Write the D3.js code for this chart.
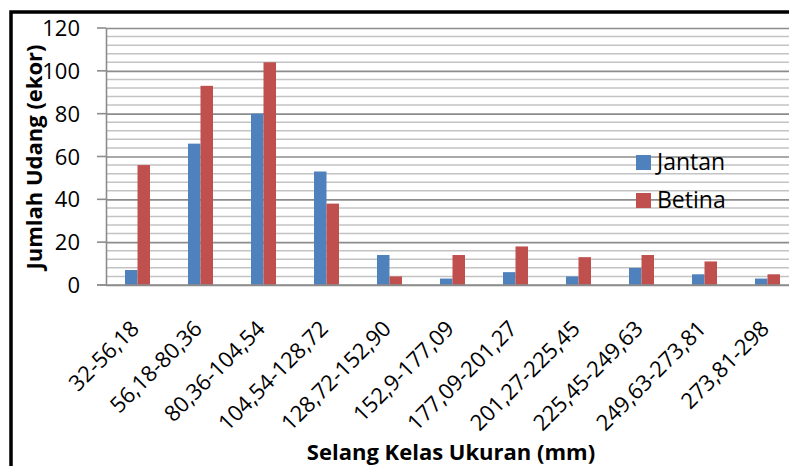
<!DOCTYPE html>
<html>
<head>
<meta charset="utf-8">
<script src="https://cdn.jsdelivr.net/npm/d3@7"></script>
<style>
  html, body { margin: 0; padding: 0; background: #fff; }
  svg { display: block; font-family: "Open Sans", sans-serif; }
</style>
</head>
<body>
<svg id="chart" width="789" height="466"></svg>
<script>
const categories = ['32-56,18', '56,18-80,36', '80,36-104,54', '104,54-128,72', '128,72-152,90',
  '152,9-177,09', '177,09-201,27', '201,27-225,45', '225,45-249,63', '249,63-273,81', '273,81-298'];
const seriesNames = ['Jantan', 'Betina'];
const jantan = [7, 66, 80, 53, 14, 3, 6, 4, 8, 5, 3];
const betina = [56, 93, 104, 38, 4, 14, 18, 13, 14, 11, 5];
const yTicks = [0, 20, 40, 60, 80, 100, 120];
const colors = ['#4f81bd', '#c0504d'];

const svg = d3.select('#chart');

// plot area (right edge runs past the picture, like the source crop)
const plot = { left: 106, top: 28, right: 799, bottom: 285 };

svg.append('rect')
  .attr('width', 789).attr('height', 466)
  .attr('fill', '#fff');

// outer frame
svg.append('rect')
  .attr('x', 11).attr('y', 12)
  .attr('width', 900).attr('height', 600)
  .attr('fill', 'none')
  .attr('stroke', '#000')
  .attr('stroke-width', 3.5);

const x0 = d3.scaleBand()
  .domain(categories)
  .range([plot.left, plot.right])
  .padding(0);

const x1 = d3.scaleBand()
  .domain(seriesNames)
  .range([-12.5, 12.5]);

const y = d3.scaleLinear()
  .domain([0, 120])
  .range([plot.bottom, plot.top]);

// minor gridlines every 4
svg.append('g')
  .selectAll('line')
  .data(d3.range(4, 120, 4).filter(v => v % 20 !== 0))
  .join('line')
  .attr('x1', plot.left).attr('x2', plot.right)
  .attr('y1', d => y(d)).attr('y2', d => y(d))
  .attr('stroke', '#c3c3c3')
  .attr('stroke-width', 1.5);

// major gridlines + y axis
svg.append('g')
  .attr('transform', `translate(${plot.left},0)`)
  .call(d3.axisLeft(y).tickValues(yTicks).tickSize(-(plot.right - plot.left)).tickSizeOuter(0).tickFormat(''))
  .call(g => g.selectAll('.tick line').attr('stroke', '#8c8c8c').attr('stroke-width', 1.6))
  .call(g => g.select('.domain').attr('stroke', '#8c8c8c').attr('stroke-width', 1.6));

// outward tick marks
svg.append('g')
  .selectAll('line')
  .data(yTicks)
  .join('line')
  .attr('x1', 97).attr('x2', plot.left)
  .attr('y1', d => y(d)).attr('y2', d => y(d))
  .attr('stroke', '#8c8c8c')
  .attr('stroke-width', 1.6);

// y tick labels
svg.append('g')
  .selectAll('text')
  .data(yTicks)
  .join('text')
  .attr('x', 80)
  .attr('y', d => y(d) + 8)
  .attr('text-anchor', 'end')
  .attr('font-size', '22px')
  .attr('fill', '#000')
  .text(d => d);

// bars
const rows = categories.map((c, i) => ({ cat: c, values: [jantan[i], betina[i]] }));

svg.append('g')
  .selectAll('g')
  .data(rows)
  .join('g')
  .attr('transform', d => `translate(${x0(d.cat) + x0.bandwidth() / 2},0)`)
  .selectAll('rect')
  .data(d => d.values.map((v, j) => ({ key: seriesNames[j], value: v, j })))
  .join('rect')
  .attr('x', d => x1(d.key))
  .attr('y', d => y(d.value))
  .attr('width', x1.bandwidth())
  .attr('height', d => y(0) - y(d.value))
  .attr('fill', d => colors[d.j]);

// category axis line
svg.append('line')
  .attr('x1', 97).attr('x2', plot.right)
  .attr('y1', y(0)).attr('y2', y(0))
  .attr('stroke', '#8c8c8c')
  .attr('stroke-width', 1.6);

// rotated category labels
svg.append('g')
  .selectAll('text')
  .data(categories)
  .join('text')
  .attr('transform', d => `translate(${x0(d) + x0.bandwidth() / 2 + 3},330) rotate(-45)`)
  .attr('text-anchor', 'end')
  .attr('font-size', '22px')
  .attr('fill', '#000')
  .text(d => d);

// axis titles
svg.append('text')
  .attr('x', 451)
  .attr('y', 460)
  .attr('text-anchor', 'middle')
  .attr('font-size', '22px')
  .attr('font-weight', 'bold')
  .attr('fill', '#000')
  .text('Selang Kelas Ukuran (mm)');

svg.append('text')
  .attr('transform', 'translate(42,157) rotate(-90)')
  .attr('text-anchor', 'middle')
  .attr('font-size', '22px')
  .attr('font-weight', 'bold')
  .attr('fill', '#000')
  .text('Jumlah Udang (ekor)');

// legend
const legend = svg.append('g')
  .selectAll('g')
  .data(seriesNames)
  .join('g')
  .attr('transform', (d, i) => `translate(636,${155 + i * 38})`);

legend.append('rect')
  .attr('width', 15).attr('height', 15)
  .attr('fill', (d, i) => colors[i]);

legend.append('text')
  .attr('x', 21)
  .attr('y', 15)
  .attr('font-size', '23px')
  .attr('fill', '#000')
  .text(d => d);
</script>
</body>
</html>
